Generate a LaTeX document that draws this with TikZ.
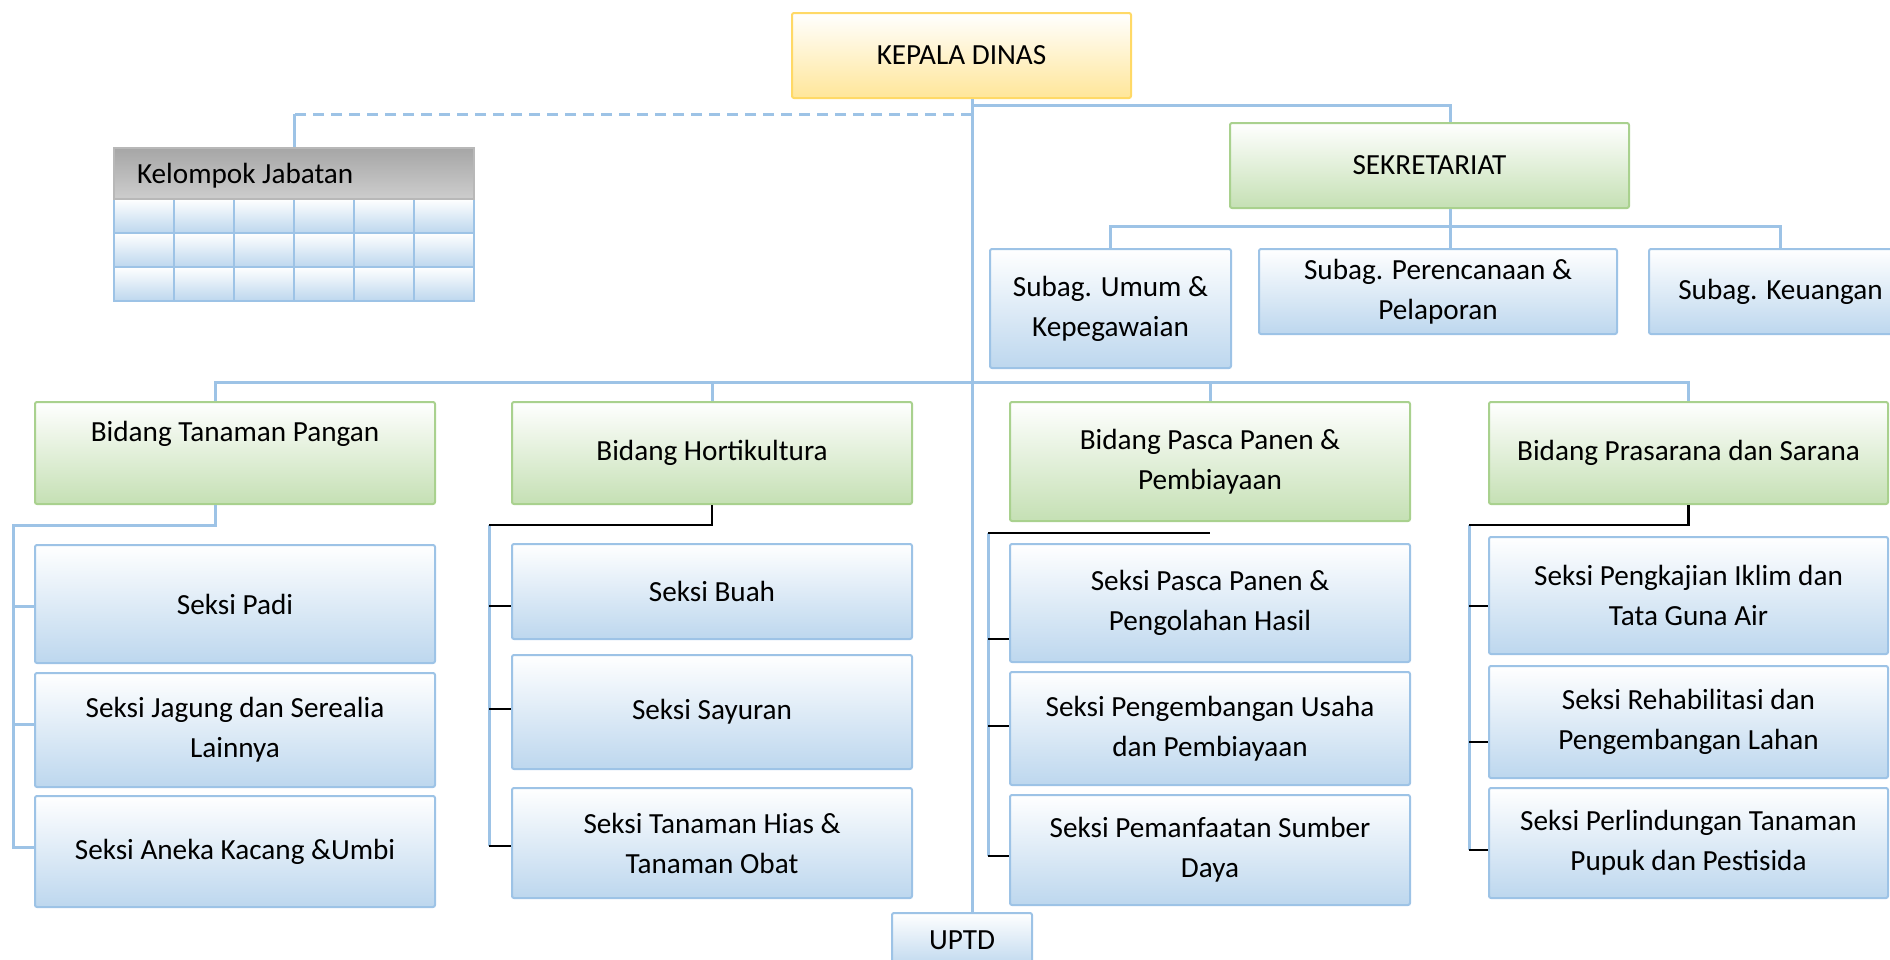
\documentclass[tikz,border=0pt]{standalone}
\usepackage{fontspec}
\setmainfont{Carlito}
\definecolor{bblue}{RGB}{157,195,230}
\definecolor{fblue}{RGB}{189,215,238}
\definecolor{bgreen}{RGB}{169,209,142}
\definecolor{fgreen}{RGB}{197,224,180}
\definecolor{byellow}{RGB}{255,217,102}
\definecolor{fyellow}{RGB}{255,230,153}
\definecolor{hdrtop}{RGB}{166,166,166}
\definecolor{hdrbot}{RGB}{205,205,205}
\tikzset{
  box/.style={rectangle, rounded corners=1pt, line width=1pt, inner sep=0pt, align=center,
    font=\fontsize{14.6}{20}\selectfont},
  bluebox/.style={box, draw=bblue, top color=white, bottom color=fblue},
  greenbox/.style={box, draw=bgreen, top color=white, bottom color=fgreen},
  yellowbox/.style={box, draw=byellow, top color=white, bottom color=fyellow},
  conn/.style={draw=bblue, line width=1.5pt},
  dashconn/.style={conn, dash pattern=on 5.5pt off 3.5pt},
  blk/.style={draw=black, line width=1.3pt},
  cell/.style={draw=bblue, line width=1pt, top color=white, bottom color=fblue},
}
\begin{document}
\begin{tikzpicture}[x=0.5pt, y=-0.5pt]
\useasboundingbox (0,0) rectangle (1890,959);

% ---- coordinates for connector routing
\coordinate (spine) at (972,0);
\coordinate (sekx) at (1450,0);
\coordinate (kjx) at (294,0);
\coordinate (b1x) at (215,0);
\coordinate (j1) at (972,105);
\coordinate (j2) at (972,114);
\coordinate (sb) at (0,226);
\coordinate (mb) at (0,382);
\coordinate (c1x) at (13,0);
\coordinate (c1y) at (0,525);
\coordinate (c2x) at (489,0);
\coordinate (c2y) at (0,525);
\coordinate (c3x) at (988,0);
\coordinate (c3y) at (0,533);
\coordinate (c4x) at (1469,0);
\coordinate (c4y) at (0,525);

% ---- top level
\node[yellowbox, minimum width=169.5pt, minimum height=42.5pt] (KD) at (961.5,55.5) {KEPALA DINAS};
\node[greenbox, minimum width=199.5pt, minimum height=42.5pt] (SEK) at (1429.5,165.5) {SEKRETARIAT};
\node[bluebox, minimum width=120.5pt, minimum height=59.5pt] (SU) at (1110.5,308.5) {Subag. Umum \&\\Kepegawaian};
\node[bluebox, minimum width=179pt, minimum height=42.5pt] (SP) at (1438,291.5) {Subag. Perencanaan \&\\Pelaporan};
\node[bluebox, minimum width=131.5pt, minimum height=42.5pt] (SK) at (1780.5,291.5) {Subag. Keuangan};
\node[bluebox, minimum width=70pt, minimum height=27.5pt] (UPTD) at (962,940.5) {UPTD};

% ---- Kelompok Jabatan
\foreach \i in {0,...,5} {
  \foreach \j in {0,1,2} {
    \path[cell] ({114+60*\i},{199+34*\j}) rectangle ({174+60*\i},{233+34*\j});
  }
}
\node[box, draw=hdrtop!80, top color=hdrtop, bottom color=hdrbot, rounded corners=0pt,
  text width=157pt, inner xsep=11.5pt, align=flush left, text depth=0pt, minimum height=25.5pt] (KJ) at (294,173.5) {Kelompok Jabatan};

% ---- Bidang
\node[greenbox, minimum width=200pt, minimum height=51pt] (B1) at (235,453) {\strut Bidang Tanaman Pangan\\\strut};
\node[greenbox, minimum width=200pt, minimum height=51pt] (B2) at (712,453) {Bidang Hortikultura};
\node[greenbox, minimum width=200pt, minimum height=59.5pt] (B3) at (1210,461.5) {Bidang Pasca Panen \&\\Pembiayaan};
\node[greenbox, minimum width=199.5pt, minimum height=51pt] (B4) at (1688.5,453) {Bidang Prasarana dan Sarana};

% ---- Seksi
\node[bluebox, minimum width=200pt, minimum height=59pt] (S11) at (235,604) {Seksi Padi};
\node[bluebox, minimum width=200pt, minimum height=57pt] (S12) at (235,730) {Seksi Jagung dan Serealia\\Lainnya};
\node[bluebox, minimum width=200pt, minimum height=55.5pt] (S13) at (235,851.5) {Seksi Aneka Kacang \&Umbi};

\node[bluebox, minimum width=200pt, minimum height=47.5pt] (S21) at (712,591.5) {Seksi Buah};
\node[bluebox, minimum width=200pt, minimum height=57pt] (S22) at (712,712) {Seksi Sayuran};
\node[bluebox, minimum width=200pt, minimum height=55pt] (S23) at (712,843) {Seksi Tanaman Hias \&\\Tanaman Obat};

\node[bluebox, minimum width=200pt, minimum height=59pt] (S31) at (1210,603) {Seksi Pasca Panen \&\\Pengolahan Hasil};
\node[bluebox, minimum width=200pt, minimum height=56.5pt] (S32) at (1210,728.5) {Seksi Pengembangan Usaha\\dan Pembiayaan};
\node[bluebox, minimum width=200pt, minimum height=55pt] (S33) at (1210,850) {Seksi Pemanfaatan Sumber\\Daya};

\node[bluebox, minimum width=199.5pt, minimum height=58.5pt] (S41) at (1688.5,595.5) {Seksi Pengkajian Iklim dan\\Tata Guna Air};
\node[bluebox, minimum width=199.5pt, minimum height=56pt] (S42) at (1688.5,722) {Seksi Rehabilitasi dan\\Pengembangan Lahan};
\node[bluebox, minimum width=199.5pt, minimum height=55pt] (S43) at (1688.5,843) {Seksi Perlindungan Tanaman\\Pupuk dan Pestisida};

% ---- top connectors
\draw[conn] (KD.south -| spine) -- (UPTD.north -| spine);
\draw[conn] (j1) -- (j1 -| sekx) -- (SEK.north -| sekx);
\draw[dashconn] (j2) -- (j2 -| kjx);
\draw[conn] (j2 -| kjx) -- (KJ.north -| kjx);
\draw[conn] (SEK.south -| sekx) -- (SP.north -| sekx);
\draw[conn] (SU.north) -- (SU.north |- sb) -- (SK.north |- sb) -- (SK.north);

% ---- main bus
\draw[conn] (B1.north -| b1x) -- (b1x |- mb) -- (B4.north |- mb) -- (B4.north);
\draw[conn] (B2.north |- mb) -- (B2.north);
\draw[conn] (B3.north |- mb) -- (B3.north);

% ---- column 1 (blue)
\draw[conn] (B1.south -| b1x) -- (b1x |- c1y) -- (c1x |- c1y) -- (c1x |- 0,847) -- (S13.west |- 0,847);
\draw[conn] (c1x |- 0,606) -- (S11.west |- 0,606);
\draw[conn] (c1x |- 0,724) -- (S12.west |- 0,724);

% ---- column 2
\draw[conn] (c2x |- c2y) -- (c2x |- 0,846);
\draw[blk] (B2.south) -- (B2.south |- c2y) -- (c2x |- c2y);
\draw[blk] (c2x |- 0,606) -- (S21.west |- 0,606);
\draw[blk] (c2x |- 0,709) -- (S22.west |- 0,709);
\draw[blk] (c2x |- 0,846) -- (S23.west |- 0,846);

% ---- column 3
\draw[conn] (c3x |- c3y) -- (c3x |- 0,856);
\draw[blk] (c3x |- c3y) -- (B3.south |- c3y);
\draw[blk] (c3x |- 0,639) -- (S31.west |- 0,639);
\draw[blk] (c3x |- 0,726) -- (S32.west |- 0,726);
\draw[blk] (c3x |- 0,856) -- (S33.west |- 0,856);

% ---- column 4
\draw[conn] (c4x |- c4y) -- (c4x |- 0,850);
\draw[blk] (B4.south) -- (B4.south |- c4y) -- (c4x |- c4y);
\draw[blk] (c4x |- 0,606) -- (S41.west |- 0,606);
\draw[blk] (c4x |- 0,742) -- (S42.west |- 0,742);
\draw[blk] (c4x |- 0,850) -- (S43.west |- 0,850);
\end{tikzpicture}
\end{document}
